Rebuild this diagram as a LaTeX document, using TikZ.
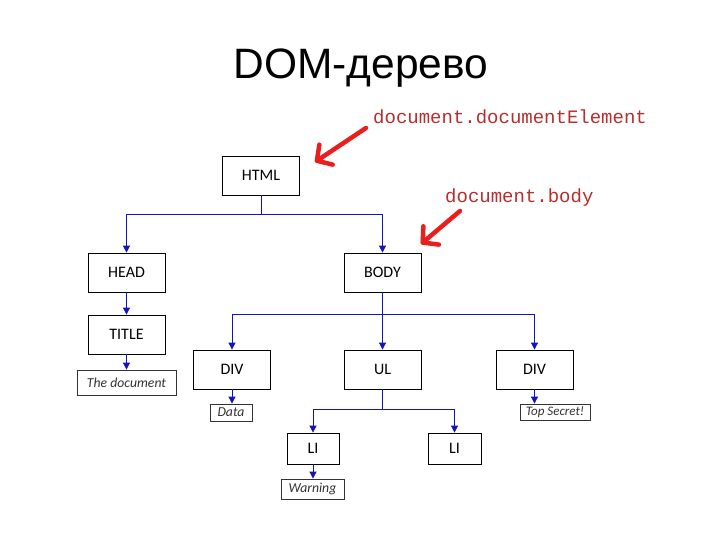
\documentclass[tikz,border=0pt]{standalone}
\usepackage{fontspec}
\setmainfont{Carlito}
\newfontfamily\titlefont{Liberation Sans}
\newfontfamily\codefont{Liberation Mono}
\usetikzlibrary{arrows.meta}
\definecolor{linkblue}{RGB}{20,20,190}
\definecolor{codered}{RGB}{185,45,45}
\definecolor{arrred}{RGB}{235,30,30}
\tikzset{
  tag/.style={draw=black, line width=0.8pt, inner sep=0pt, minimum width=77pt, minimum height=39pt, font=\fontsize{16}{18}\selectfont},
  leaf/.style={draw=black!80, line width=0.8pt, inner sep=0pt, minimum height=20pt, font=\fontsize{13.7}{15}\selectfont\itshape, text=black!80},
  link/.style={draw=linkblue, line width=0.8pt, -{Triangle[length=7pt,width=7pt]}},
  plain/.style={draw=linkblue, line width=0.8pt},
  code/.style={text=codered, font=\codefont\fontsize{19}{21}\selectfont, inner sep=0pt},
  redarrow/.style={draw=arrred, line width=4.5pt, line cap=round, -{Straight Barb[length=11pt,width=24pt,line width=4.5pt, round]}}
}
\begin{document}
\begin{tikzpicture}[x=1pt,y=-1pt]
\useasboundingbox (0,0) rectangle (720,540);
\node[font=\titlefont\fontsize{42.5}{46}\selectfont, inner sep=0pt] (title) at (361,68) {DOM-дерево};

\node[tag] (html) at (261,175.5) {HTML};
\node[tag] (head) at (126.5,272.5) {HEAD};
\node[tag] (body) at (382.5,272.5) {BODY};
\node[tag] (title2) at (126.5,334.5) {TITLE};
\node[leaf, minimum width=99pt, minimum height=25pt] (doc) at (126.5,382.5) {The document};
\node[tag] (div1) at (232,369.5) {DIV};
\node[tag] (ul) at (382.5,369.5) {UL};
\node[tag] (div2) at (534.5,369.5) {DIV};
\node[leaf, minimum width=42pt, minimum height=17pt] (data) at (231,412.5) {Data};
\node[leaf, minimum width=70pt, minimum height=16pt, font=\fontsize{13}{14}\selectfont\itshape] (secret) at (555,412) {Top Secret!};
\node[tag, minimum width=52pt, minimum height=31pt] (li1) at (313,448.5) {LI};
\node[tag, minimum width=53pt, minimum height=31pt] (li2) at (454.5,448.5) {LI};
\node[leaf, minimum width=63pt, minimum height=20pt] (warn) at (312.5,489) {Warning};

% HTML children
\coordinate (j1) at (261,214);
\draw[plain] (html.south) -- (j1);
\draw[link] (j1) -| (head.north);
\draw[link] (j1) -| (body.north);
\draw[link] (head) -- (title2);
\draw[link] (title2) -- (doc);
% BODY children
\coordinate (j2) at (382.5,314);
\draw[plain] (body.south) -- (j2);
\draw[link] (j2) -| (div1.north);
\draw[link] (j2) -- (ul.north);
\draw[link] (j2) -| (div2.north);
\draw[link] (div1.south) -- (div1.south |- data.north);
\draw[link] (div2.south) -- (div2.south |- secret.north);
% UL children
\coordinate (j3) at (382.5,409);
\draw[plain] (ul.south) -- (j3);
\draw[link] (j3) -| (li1.north);
\draw[link] (j3) -| (li2.north);
\draw[link] (li1.south) -- (li1.south |- warn.north);

% red annotations
\node[code, anchor=west] (de) at (373,117) {document.documentElement};
\node[code, anchor=west] (db) at (445,198) {document.body};
\coordinate (a1s) at (366,128);
\coordinate (a1e) at (315,162);
\coordinate (a2s) at (460,211);
\coordinate (a2e) at (421,244);
\draw[redarrow] (a1s) -- (a1e);
\draw[redarrow] (a2s) -- (a2e);
\end{tikzpicture}
\end{document}
